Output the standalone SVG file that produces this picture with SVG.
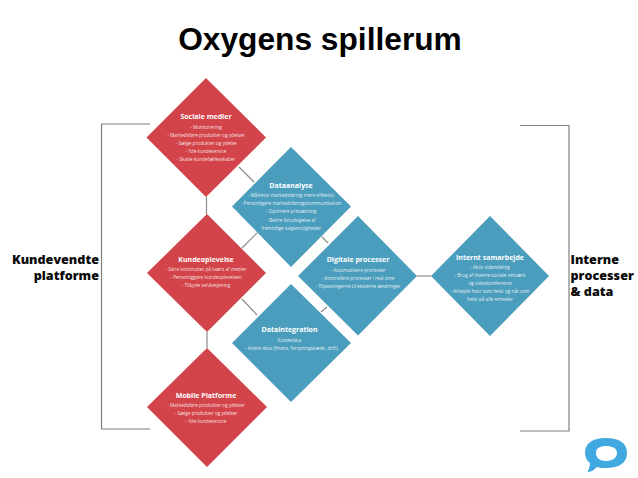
<svg xmlns="http://www.w3.org/2000/svg" width="638" height="478" viewBox="0 0 638 478">
<style>
.red{fill:#d2444a}
.blue{fill:#4b9dbd}
.con{fill:none;stroke:#8a8a8a;stroke-width:1.2}
.br{fill:none;stroke:#808080;stroke-width:1.2}
.t{font-family:"Open Sans","DejaVu Sans",sans-serif;font-weight:700;font-size:7px;fill:#fff;text-anchor:middle}
.b{font-family:"Open Sans","DejaVu Sans",sans-serif;font-size:4.7px;fill:#fff;fill-opacity:.85;text-anchor:middle}
.lab{font-family:"Open Sans","DejaVu Sans",sans-serif;font-weight:800;font-size:12.6px;fill:#0a0a0a}
.title{font-family:"Liberation Sans",Arial,sans-serif;font-weight:700;font-size:31.700px;fill:#000;text-anchor:middle}
</style>
<rect width="638" height="478" fill="#fff"/>
<text class="title" x="320" y="50">Oxygens spillerum</text>
<g id="connectors">
<path class="con" d="M206.500 197V214"/>
<path class="con" d="M207 332V348"/>
<path class="con" d="M239 167L254 182"/>
<path class="con" d="M257 233L242 248"/>
<path class="con" d="M322 237L328 243"/>
<path class="con" d="M242 299L257 315"/>
<path class="con" d="M327 307L321 312"/>
<path class="con" d="M417 276H431"/>
</g>
<g id="bracket-left"><path class="br" d="M150 124H101.500V429H150"/></g>
<g id="bracket-right"><path class="br" d="M520 125.500H569V431H520"/></g>
<g id="sociale-medier">
<polygon class="red" points="206,78 266,137.500 206,197 146.500,137.500"/>
<text class="t" x="206" y="119">Sociale medier</text>
<text class="b" x="206" y="128.500">- Monitorering</text>
<text class="b" x="206" y="136.700">- Markedsføre produkter og ydelser</text>
<text class="b" x="206" y="144.700">- Sælge produkter og ydelse</text>
<text class="b" x="206" y="153">- Yde kundeservice</text>
<text class="b" x="206" y="161">- Skabe kundefællesskaber</text>
</g>
<g id="dataanalyse">
<polygon class="blue" points="291,147 351,206.500 291,267 232,206.500"/>
<text class="t" x="291" y="188">Dataanalyse</text>
<text class="b" x="291" y="196.500">- Målrette markedsføring mere effektivt</text>
<text class="b" x="291" y="205">- Personligøre markedsføringskommunikation</text>
<text class="b" x="291" y="213">- Optimere prissætning</text>
<text class="b" x="291" y="221.500">- Bedre forudsigelse af</text>
<text class="b" x="291" y="230">fremtidige salgsmuligheder</text>
</g>
<g id="kundeoplevelse">
<polygon class="red" points="207,214 266,273 207,332 147,273"/>
<text class="t" x="206" y="262">Kundeoplevelse</text>
<text class="b" x="206" y="270.500">- Sikre kontinuitet på tværs af medier</text>
<text class="b" x="206" y="279">- Personliggøre kundeoplevelsen</text>
<text class="b" x="206" y="287">- Tilbyde selvbetjening</text>
</g>
<g id="digitale-processer">
<polygon class="blue" points="358,216 417,276 358,335.500 298,276"/>
<text class="t" x="358" y="262">Digitale processer</text>
<text class="b" x="358" y="271.500">- Automatisere processer</text>
<text class="b" x="358" y="279.500">- Kontrollere processer i real time</text>
<text class="b" x="358" y="287.500">- Tilpasningerne til eksterne ændringer</text>
</g>
<g id="dataintegration">
<polygon class="blue" points="291,284 351,343 291,402 232,343"/>
<text class="t" x="289.500" y="332">Dataintegration</text>
<text class="b" x="289.500" y="342">Kundedata</text>
<text class="b" x="291.500" y="350">- Andre data (finans, forsyningskæde, drift)</text>
</g>
<g id="mobile-platforme">
<polygon class="red" points="207,348 267,407 207,467 147,407"/>
<text class="t" x="206" y="398">Mobile Platforme</text>
<text class="b" x="206" y="406.500">- Markedsføre produkter og ydelser</text>
<text class="b" x="206" y="415">- Sælge produkter og ydelser</text>
<text class="b" x="206" y="423">- Yde kundeservice</text>
</g>
<g id="internt-samarbejde">
<polygon class="blue" points="490,216 549,276 490,336 431,276"/>
<text class="t" x="490" y="259.500">Internt samarbejde</text>
<text class="b" x="490" y="268.500">- Aktiv videndeling</text>
<text class="b" x="490" y="276.500">- Brug af interne sociale netværk</text>
<text class="b" x="490" y="285">og videokonference</text>
<text class="b" x="490" y="293">- Arbejde hvor som helst og når som</text>
<text class="b" x="490" y="301">helst på alle enheder</text>
</g>
<g id="label-left">
<text class="lab" text-anchor="end"><tspan x="99" y="264">Kundevendte</tspan><tspan x="99" y="280">platforme</tspan></text>
</g>
<g id="label-right">
<text class="lab"><tspan x="570.500" y="264">Interne</tspan><tspan x="570.500" y="280">processer</tspan><tspan x="570.500" y="296">&amp; data</tspan></text>
</g>
<g id="logo">
<path fill="#3fa9e0" fill-rule="evenodd" d="M606 438C619 438 627 443 627 453C627 463 619 468 606 468C602 468 600 468 597 467C594 470 591 472 587.500 472C589 469 590 466 590 463C587 461 585 457 585 453C585 443 593 438 606 438ZM606 446C600 446 596 448 596 453C596 458 600 461 606 461C612 461 617 458 617 453C617 448 612 446 606 446Z"/>
</g>
</svg>
